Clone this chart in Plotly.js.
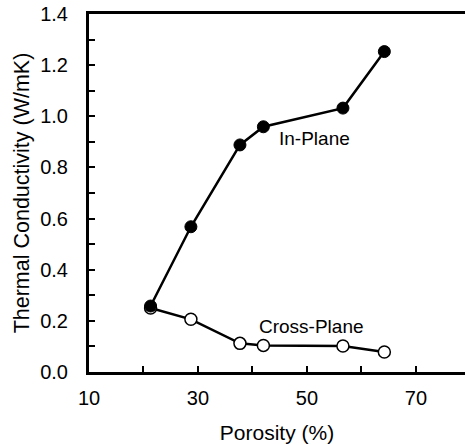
<!DOCTYPE html>
<html>
<head>
<script src="https://cdn.plot.ly/plotly-3.0.1.min.js"></script>
<style>body{margin:0;padding:0;background:#fff}#chart{width:465px;height:445px}</style>
</head>
<body>
<div id="chart"></div>
<script>
const porosity = [21.3, 28.7, 37.7, 42.0, 56.6, 64.2];
const inPlane = [0.258, 0.568, 0.888, 0.959, 1.032, 1.253];
const crossPlane = [0.250, 0.206, 0.112, 0.104, 0.102, 0.078];
const xTickVals = [10, 20, 30, 40, 50, 60, 70];
const xTickText = ['10', '', '30', '', '50', '', '70'];
const yTickVals = [0, 0.1, 0.2, 0.3, 0.4, 0.5, 0.6, 0.7, 0.8, 0.9, 1.0, 1.1, 1.2, 1.3, 1.4];
const yTickText = ['0.0', '', '0.2', '', '0.4', '', '0.6', '', '0.8', '', '1.0', '', '1.2', '', '1.4'];

const fam = 'Liberation Sans, Arial, sans-serif';
const tickFont = {family: fam, size: 20, color: '#000'};
const titleFont = {family: fam, size: 21, color: '#000'};
const yTitleFont = {family: fam, size: 21.5, color: '#000'};
const annFont = {family: fam, size: 19, color: '#000'};

const traces = [
  {x: porosity, y: crossPlane, mode: 'lines+markers', name: 'Cross-Plane',
   line: {color: '#000', width: 2.5},
   marker: {symbol: 'circle', size: 12, color: '#fff', line: {color: '#000', width: 1.5}},
   cliponaxis: false},
  {x: porosity, y: inPlane, mode: 'lines+markers', name: 'In-Plane',
   line: {color: '#000', width: 2.5},
   marker: {symbol: 'circle', size: 12, color: '#000', line: {color: '#000', width: 1}},
   cliponaxis: false}
];

const layout = {
  width: 465, height: 445,
  margin: {l: 89, r: 0, t: 14, b: 73},
  paper_bgcolor: '#fff', plot_bgcolor: '#fff',
  showlegend: false,
  font: tickFont,
  xaxis: {
    range: [10, 79], tickmode: 'array', tickvals: xTickVals, ticktext: xTickText,
    ticks: 'inside', ticklen: 6, tickwidth: 2, tickcolor: '#000',
    showline: true, linecolor: '#000', linewidth: 3, mirror: true,
    showgrid: false, zeroline: false, tickfont: tickFont,
    ticklabelstandoff: 6,
    title: {text: 'Porosity (%)', font: titleFont, standoff: 18}
  },
  yaxis: {
    range: [0, 1.4], tickmode: 'array', tickvals: yTickVals, ticktext: yTickText,
    ticks: 'inside', ticklen: 6, tickwidth: 2, tickcolor: '#000',
    showline: true, linecolor: '#000', linewidth: 3,
    showgrid: false, zeroline: false, tickfont: tickFont,
    ticklabelstandoff: 14,
    title: {text: 'Thermal Conductivity (W/mK)', font: yTitleFont, standoff: 5}
  },
  annotations: [
    {x: 51.3, y: 0.915, text: 'In-Plane', showarrow: false, font: annFont},
    {x: 50.9, y: 0.176, text: 'Cross-Plane', showarrow: false, font: annFont}
  ]
};

Plotly.newPlot('chart', traces, layout, {staticPlot: true, displayModeBar: false});
</script>
</body>
</html>
